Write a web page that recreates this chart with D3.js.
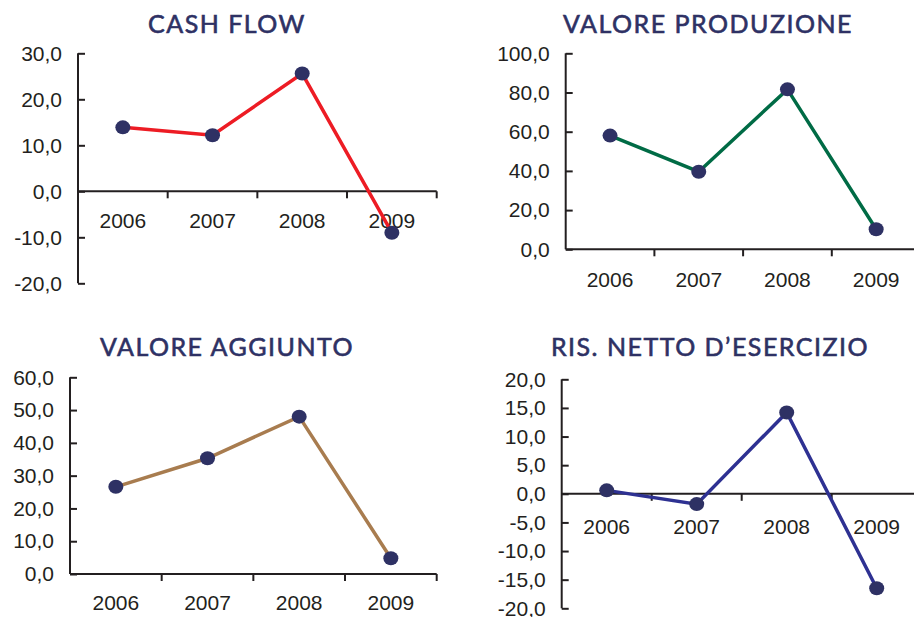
<!DOCTYPE html>
<html>
<head>
<meta charset="utf-8">
<script src="https://cdn.jsdelivr.net/npm/d3@7"></script>
<style>
  body { margin: 0; background: #fff; }
  svg { display: block; }
  .tick text, .cat { font-family: "Liberation Sans", Arial, sans-serif; font-size: 21px; fill: #231f20; }
  .title { font-family: Lato, "Open Sans", sans-serif; font-weight: 400; font-size: 25px; letter-spacing: 1.5px; fill: #2e3164; stroke: #2e3164; stroke-width: 0.6px; }
</style>
</head>
<body>
<svg id="chart" width="914" height="617"></svg>
<script>

const years = ['2006', '2007', '2008', '2009'];

const cashFlow = [13.9, 12.2, 25.6, -9.0];
const valoreProduzione = [58.0, 39.6, 81.6, 10.2];
const valoreAggiunto = [26.6, 35.3, 48.0, 4.8];
const risNetto = [0.6, -1.8, 14.2, -16.5];

const cashFlowTicks = [-20, -10, 0, 10, 20, 30];
const produzioneTicks = [0, 20, 40, 60, 80, 100];
const aggiuntoTicks = [0, 10, 20, 30, 40, 50, 60];
const risNettoTicks = [-20, -15, -10, -5, 0, 5, 10, 15, 20];

const it = d3.formatLocale({decimal: ',', thousands: '.', grouping: [3], currency: ['', '€'], minus: '-'});
const fmt = it.format('.1f');

let svg = d3.select('#chart');

// one small chart per panel: y axis at x0, plot box set by hand to match the page
function panel(title, values, ticks, color, box) {
    let g = svg.append('g');

    let x = d3.scaleBand().domain(years).range([box.x0, box.x1]);
    let y = d3.scaleLinear().domain(d3.extent(ticks)).range([box.yBottom, box.yTop]);

    g.append('text')
        .attr('class', 'title')
        .attr('x', box.titleX)
        .attr('y', box.titleY)
        .attr('text-anchor', 'middle')
        .text(title);

    // y axis, ticks pointing into the plot
    let yAxis = d3.axisLeft(y)
        .tickValues(ticks)
        .tickFormat(fmt)
        .tickSizeInner(-7)
        .tickSizeOuter(0)
        .tickPadding(16);
    let ya = g.append('g')
        .attr('transform', `translate(${box.x0},0)`)
        .call(yAxis);
    ya.selectAll('path, line').attr('stroke', '#231f20').attr('stroke-width', 2);
    ya.select('.domain').attr('d', `M0,${y.range()[0]}V${y.range()[1]}`);
    ya.selectAll('.tick text').attr('fill', '#231f20');

    // x axis at zero, ticks between categories
    let y0 = y(0);
    g.append('line')
        .attr('x1', box.x0).attr('x2', box.x1)
        .attr('y1', y0).attr('y2', y0)
        .attr('stroke', '#231f20').attr('stroke-width', 2);
    g.selectAll('.xtick')
        .data(years)
        .enter().append('line')
        .attr('class', 'xtick')
        .attr('x1', (d) => x(d) + x.bandwidth())
        .attr('x2', (d) => x(d) + x.bandwidth())
        .attr('y1', y0).attr('y2', y0 + 7)
        .attr('stroke', '#231f20').attr('stroke-width', 2);
    g.selectAll('.cat')
        .data(years)
        .enter().append('text')
        .attr('class', 'cat')
        .attr('x', (d) => x(d) + x.bandwidth()/2)
        .attr('y', y0 + box.labelDy)
        .attr('text-anchor', 'middle')
        .text((d) => d);

    const cx = (d, i) => x(years[i]) + x.bandwidth()/2;

    g.append('path')
        .datum(values)
        .attr('fill', 'none')
        .attr('stroke', color)
        .attr('stroke-width', 3.5)
        .attr('d', d3.line().x(cx).y((d) => y(d)));

    g.selectAll('.dot')
        .data(values)
        .enter().append('ellipse')
        .attr('class', 'dot')
        .attr('cx', cx)
        .attr('cy', (d) => y(d))
        .attr('rx', 7.5).attr('ry', 7)
        .attr('fill', '#2e3164');
}

panel('CASH FLOW', cashFlow, cashFlowTicks, '#ed1c24',
    {x0: 78, x1: 436.7, yBottom: 283.3, yTop: 53.3, titleX: 227, titleY: 33, labelDy: 37});
panel('VALORE PRODUZIONE', valoreProduzione, produzioneTicks, '#006b45',
    {x0: 565.7, x1: 920.5, yBottom: 249.3, yTop: 53.3, titleX: 708, titleY: 33, labelDy: 38});
panel('VALORE AGGIUNTO', valoreAggiunto, aggiuntoTicks, '#a87c4f',
    {x0: 70, x1: 436.7, yBottom: 574, yTop: 377.3, titleX: 227, titleY: 356, labelDy: 36});
panel('RIS. NETTO D\u2019ESERCIZIO', risNetto, risNettoTicks, '#2e3192',
    {x0: 561.7, x1: 921.7, yBottom: 608.3, yTop: 379.3, titleX: 710, titleY: 356, labelDy: 40});

</script>
</body>
</html>
